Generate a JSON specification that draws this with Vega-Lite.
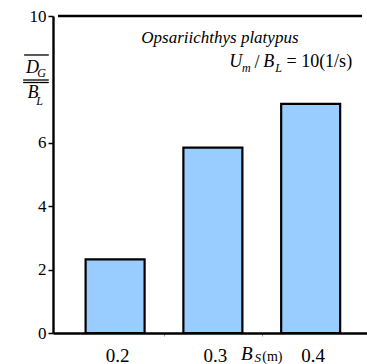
{
  "$schema": "https://vega.github.io/schema/vega-lite/v6.json",
  "width": 314,
  "height": 317,
  "autosize": "none",
  "padding": {"left": 53, "top": 16, "right": 0, "bottom": 31},
  "config": {
    "view": {"stroke": null},
    "font": "Liberation Serif",
    "text": {"font": "Liberation Serif", "color": "black", "align": "left", "baseline": "alphabetic"},
    "axis": {"labelFont": "Liberation Serif", "labelColor": "black", "domainColor": "black", "grid": false}
  },
  "data": {"values": [
    {"B_S": 0.2, "ratio": 2.32},
    {"B_S": 0.3, "ratio": 5.85},
    {"B_S": 0.4, "ratio": 7.23}
  ]},
  "layer": [
    {
      "mark": {"type": "bar", "size": 59, "fill": "#99ccff", "stroke": "black", "strokeWidth": 2.2},
      "encoding": {
        "x": {
          "field": "B_S", "type": "quantitative",
          "scale": {"domain": [0.1416, 0.4525], "nice": false, "zero": false},
          "axis": {
            "title": null,
            "values": [0.2, 0.25, 0.3, 0.35, 0.4],
            "labelExpr": "(abs(datum.value-0.25)<0.001 || abs(datum.value-0.35)<0.001) ? '' : format(datum.value, '.1f')",
            "labelFontSize": 19,
            "labelOverlap": false,
            "labelFlush": false,
            "labelPadding": 10,
            "labelOffset": 2,
            "tickSize": 3,
            "tickWidth": 1,
            "tickColor": "#999999",
            "tickOpacity": {"condition": {"test": "abs(datum.value-0.25)<0.001 || abs(datum.value-0.35)<0.001", "value": 1}, "value": 0},
            "domainWidth": 2.6
          }
        },
        "y": {
          "field": "ratio", "type": "quantitative",
          "scale": {"domain": [0, 10], "nice": false},
          "axis": {
            "title": null,
            "values": [0, 2, 4, 6, 10],
            "labelFontSize": 17,
            "labelPadding": 2,
            "tickSize": 5,
            "tickWidth": 1.5,
            "tickColor": "black",
            "domainWidth": 2.4
          }
        }
      }
    },
    {
      "data": {"values": [{}]},
      "mark": {"type": "rule", "stroke": "black", "strokeWidth": 2.3},
      "encoding": {"x": {"datum": 0.1416}, "x2": {"datum": 0.4525}, "y": {"datum": 10}}
    },
    {
      "data": {"values": [{}]},
      "mark": {"type": "rule", "stroke": "black", "strokeWidth": 1.3},
      "encoding": {"x": {"datum": 0.10695}, "x2": {"datum": 0.13219}, "y": {"datum": 8.77}}
    },
    {
      "data": {"values": [{}]},
      "mark": {"type": "rule", "stroke": "black", "strokeWidth": 1.3},
      "encoding": {"x": {"datum": 0.10596}, "x2": {"datum": 0.13219}, "y": {"datum": 7.981}}
    },
    {
      "data": {"values": [{}]},
      "mark": {"type": "rule", "stroke": "black", "strokeWidth": 1.3},
      "encoding": {"x": {"datum": 0.10596}, "x2": {"datum": 0.13219}, "y": {"datum": 7.902}}
    },
    {
      "data": {"values": [{}]},
      "mark": {"type": "text", "fontSize": 18, "fontStyle": "italic"},
      "encoding": {"x": {"datum": 0.10893}, "y": {"datum": 8.202}, "text": {"value": "D"}}
    },
    {
      "data": {"values": [{}]},
      "mark": {"type": "text", "fontSize": 12, "fontStyle": "italic"},
      "encoding": {"x": {"datum": 0.12031}, "y": {"datum": 8.076}, "text": {"value": "G"}}
    },
    {
      "data": {"values": [{}]},
      "mark": {"type": "text", "fontSize": 18, "fontStyle": "italic"},
      "encoding": {"x": {"datum": 0.11041}, "y": {"datum": 7.413}, "text": {"value": "B"}}
    },
    {
      "data": {"values": [{}]},
      "mark": {"type": "text", "fontSize": 12, "fontStyle": "italic"},
      "encoding": {"x": {"datum": 0.11932}, "y": {"datum": 7.208}, "text": {"value": "L"}}
    },
    {
      "data": {"values": [{}]},
      "mark": {"type": "text", "fontSize": 17, "fontStyle": "italic"},
      "encoding": {"x": {"datum": 0.22675}, "y": {"datum": 9.148}, "text": {"value": "Opsariichthys platypus"}}
    },
    {
      "data": {"values": [{}]},
      "mark": {"type": "text", "fontSize": 18, "fontStyle": "italic"},
      "encoding": {"x": {"datum": 0.31685}, "y": {"datum": 8.391}, "text": {"value": "U"}}
    },
    {
      "data": {"values": [{}]},
      "mark": {"type": "text", "fontSize": 12, "fontStyle": "italic"},
      "encoding": {"x": {"datum": 0.32972}, "y": {"datum": 8.249}, "text": {"value": "m"}}
    },
    {
      "data": {"values": [{}]},
      "mark": {"type": "text", "fontSize": 18},
      "encoding": {"x": {"datum": 0.34259}, "y": {"datum": 8.36}, "text": {"value": "/"}}
    },
    {
      "data": {"values": [{}]},
      "mark": {"type": "text", "fontSize": 18, "fontStyle": "italic"},
      "encoding": {"x": {"datum": 0.3515}, "y": {"datum": 8.391}, "text": {"value": "B"}}
    },
    {
      "data": {"values": [{}]},
      "mark": {"type": "text", "fontSize": 12, "fontStyle": "italic"},
      "encoding": {"x": {"datum": 0.36388}, "y": {"datum": 8.249}, "text": {"value": "L"}}
    },
    {
      "data": {"values": [{}]},
      "mark": {"type": "text", "fontSize": 18},
      "encoding": {"x": {"datum": 0.37526}, "y": {"datum": 8.391}, "text": {"value": "= 10(1/s)"}}
    },
    {
      "data": {"values": [{}]},
      "mark": {"type": "text", "fontSize": 19, "fontStyle": "italic"},
      "encoding": {"x": {"datum": 0.32873}, "y": {"datum": -0.85}, "text": {"value": "B"}}
    },
    {
      "data": {"values": [{}]},
      "mark": {"type": "text", "fontSize": 13, "fontStyle": "italic"},
      "encoding": {"x": {"datum": 0.34259}, "y": {"datum": -0.93}, "text": {"value": "S"}}
    },
    {
      "data": {"values": [{}]},
      "mark": {"type": "text", "fontSize": 14},
      "encoding": {"x": {"datum": 0.35051}, "y": {"datum": -0.87}, "text": {"value": "(m)"}}
    }
  ]
}
